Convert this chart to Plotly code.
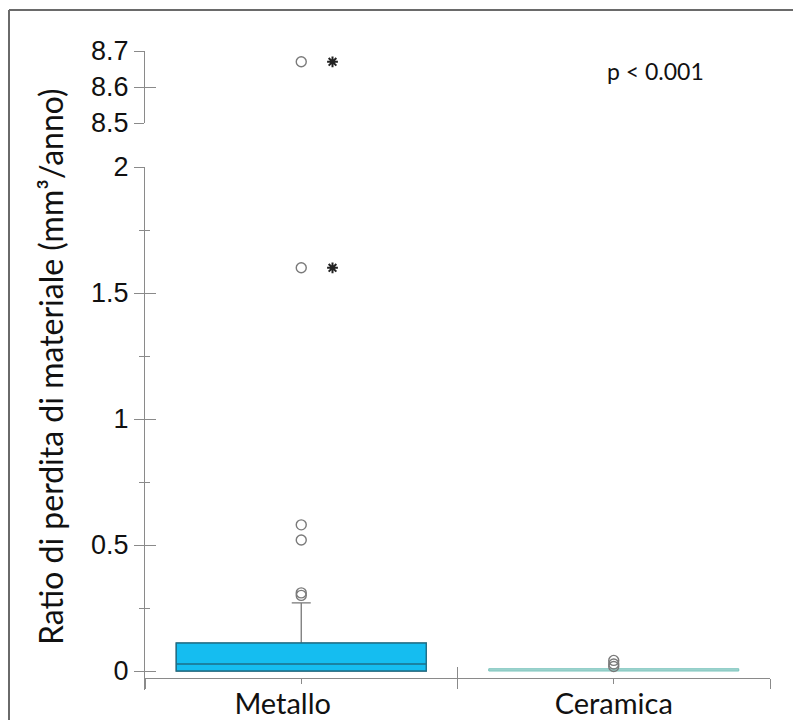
import plotly.graph_objects as go

# ---------------- data ----------------
categories = ["Metallo", "Ceramica"]
cat_pos = [0, 1]
q1 = [0.0, 0.0]
median = [0.028, 0.002]
q3 = [0.111, 0.009]
lower_fence = [0.0, 0.0]
upper_fence = [0.27, 0.009]

metallo_outliers = [0.30, 0.31, 0.52, 0.58, 1.60, 8.67]
metallo_extreme = [1.60, 8.67]          # values flagged with an asterisk
ceramica_outliers = [0.018, 0.028, 0.042]

low_ticks = [0, 0.5, 1, 1.5, 2]
low_ticktext = ["0", "0.5", "1", "1.5", "2"]
low_minor = [0.25, 0.75, 1.25, 1.75]
high_ticks = [8.5, 8.6, 8.7]
high_ticktext = ["8.5", "8.6", "8.7"]
boundaries = [-0.5, 0.5, 1.5]

y_title = "Ratio di perdita di materiale (mm³/anno)"
p_text = "p < 0.001"

# ---------------- layout constants ----------------
W, H = 793, 720
BREAK_LOW = 2.0
BREAK_HIGH = 8.5
AX = "#8a8a8a"
LABEL_FONT = "Lato, Carlito, Calibri, sans-serif"
NUM_FONT = "Liberation Sans, Arial, sans-serif"
NB = "\u00a0"
label_text = [categories[0] + NB * 5, categories[1]]

def px_x(p):
    return p / W

def px_y(p):
    return 1 - p / H

fig = go.Figure()

# whisker layer (gray) for Metallo
fig.add_trace(go.Box(
    x=[cat_pos[0]], q1=[q1[0]], median=[median[0]], q3=[q3[0]],
    lowerfence=[lower_fence[0]], upperfence=[upper_fence[0]],
    width=0.8, whiskerwidth=0.076, boxpoints=False,
    fillcolor="rgba(0,0,0,0)", line=dict(color="#777777", width=1.3),
    xaxis="x", yaxis="y", hoverinfo="skip"))
# box layer for Metallo
fig.add_trace(go.Box(
    x=[cat_pos[0]], q1=[q1[0]], median=[median[0]], q3=[q3[0]],
    lowerfence=[q1[0]], upperfence=[q3[0]],
    width=0.8, whiskerwidth=0, boxpoints=False,
    fillcolor="#15bdf0", line=dict(color="#1d6f88", width=1.4),
    xaxis="x", yaxis="y", hoverinfo="skip"))
# Ceramica box
fig.add_trace(go.Box(
    x=[cat_pos[1]], q1=[q1[1]], median=[median[1]], q3=[q3[1]],
    lowerfence=[lower_fence[1]], upperfence=[upper_fence[1]],
    width=0.8, whiskerwidth=0, boxpoints=False,
    fillcolor="#d4ece9", line=dict(color="#79c3bb", width=1.0),
    xaxis="x", yaxis="y", hoverinfo="skip"))

circle = dict(symbol="circle-open", size=10, color="#7a7a7a",
              line=dict(width=1.4, color="#7a7a7a"))
low_out = [v for v in metallo_outliers if v <= BREAK_LOW]
high_out = [v for v in metallo_outliers if v >= BREAK_HIGH]
fig.add_trace(go.Scatter(x=[cat_pos[0]] * len(low_out), y=low_out, mode="markers",
                         marker=circle, xaxis="x", yaxis="y", hoverinfo="skip"))
fig.add_trace(go.Scatter(x=[cat_pos[0]] * len(high_out), y=high_out, mode="markers",
                         marker=circle, xaxis="x", yaxis="y2", hoverinfo="skip"))
fig.add_trace(go.Scatter(x=[cat_pos[1]] * len(ceramica_outliers), y=ceramica_outliers,
                         mode="markers", marker=circle, xaxis="x", yaxis="y",
                         hoverinfo="skip"))

# asterisks beside extreme outliers
STAR_OFFSET = 0.1
star = dict(symbol="asterisk-open", size=9, color="#222222",
            line=dict(width=2, color="#222222"))
ext_low = [v for v in metallo_extreme if v <= BREAK_LOW]
ext_high = [v for v in metallo_extreme if v >= BREAK_HIGH]
fig.add_trace(go.Scatter(x=[cat_pos[0] + STAR_OFFSET] * len(ext_low), y=ext_low,
                         mode="markers", marker=star, xaxis="x", yaxis="y",
                         hoverinfo="skip"))
fig.add_trace(go.Scatter(x=[cat_pos[0] + STAR_OFFSET] * len(ext_high), y=ext_high,
                         mode="markers", marker=star, xaxis="x", yaxis="y2",
                         hoverinfo="skip"))

# empty traces so that the overlay (tick-only) axes get drawn
for xa, ya in [("x2", "y"), ("x3", "y"), ("x4", "y"), ("x", "y3"), ("x", "y4")]:
    fig.add_trace(go.Scatter(x=[], y=[], xaxis=xa, yaxis=ya, hoverinfo="skip",
                             mode="markers"))

x_dom = [px_x(145), px_x(770)]
y_low_dom = [px_y(690), px_y(167)]
y_high_dom = [px_y(123), px_y(51)]
y_low_range = [-(690 - 671) / ((671 - 167) / 2.0), 2.0]
x_range = [-0.5, 1.5]
x_pos = px_y(678)

common_x = dict(range=x_range, domain=x_dom, anchor="free", position=x_pos,
                showgrid=False, zeroline=False, fixedrange=True, automargin=False)
fig.update_layout(
    width=W, height=H,
    margin=dict(l=0, r=0, t=0, b=0),
    paper_bgcolor="white", plot_bgcolor="white",
    showlegend=False, boxmode="overlay", hovermode=False,
    xaxis=dict(**common_x, tickvals=cat_pos, ticktext=label_text,
               showline=True, linecolor=AX, linewidth=1.2,
               ticks="", ticklabelstandoff=0,
               tickfont=dict(family=LABEL_FONT, size=29, color="#111111")),
    xaxis2=dict(**common_x, overlaying="x", tickvals=boundaries, showticklabels=False,
                showline=False, ticks="outside", ticklen=10, tickcolor=AX, tickwidth=1.2),
    xaxis3=dict(**common_x, overlaying="x", tickvals=boundaries, showticklabels=False,
                showline=False, ticks="inside", ticklen=11, tickcolor=AX, tickwidth=1.2),
    xaxis4=dict(**common_x, overlaying="x", tickvals=cat_pos, showticklabels=False,
                showline=False, ticks="outside", ticklen=5, tickcolor=AX, tickwidth=1.2),
    yaxis=dict(domain=y_low_dom, range=y_low_range, anchor="x",
               tickvals=low_ticks, ticktext=low_ticktext,
               showline=True, linecolor=AX, linewidth=1.2,
               ticks="outside", ticklen=10, tickcolor=AX, tickwidth=1.2,
               minor=dict(tickvals=low_minor, ticks="outside", ticklen=5,
                          tickcolor=AX, tickwidth=1.2, showgrid=False),
               tickfont=dict(family=NUM_FONT, size=27, color="#111111"),
               showgrid=False, zeroline=False, fixedrange=True, automargin=False),
    yaxis3=dict(overlaying="y", range=y_low_range, anchor="x",
                tickvals=low_ticks, showticklabels=False, showline=False,
                ticks="inside", ticklen=11, tickcolor=AX, tickwidth=1.2,
                minor=dict(tickvals=low_minor, ticks="inside", ticklen=5,
                           tickcolor=AX, tickwidth=1.2, showgrid=False),
                showgrid=False, zeroline=False, fixedrange=True, automargin=False),
    yaxis2=dict(domain=y_high_dom, range=[8.5, 8.7], anchor="x",
                tickvals=high_ticks, ticktext=high_ticktext,
                showline=True, linecolor=AX, linewidth=1.2,
                ticks="outside", ticklen=10, tickcolor=AX, tickwidth=1.2,
                tickfont=dict(family=NUM_FONT, size=27, color="#111111"),
                showgrid=False, zeroline=False, fixedrange=True, automargin=False),
    yaxis4=dict(overlaying="y2", range=[8.5, 8.7], anchor="x",
                tickvals=high_ticks, showticklabels=False, showline=False,
                ticks="inside", ticklen=11, tickcolor=AX, tickwidth=1.2,
                showgrid=False, zeroline=False, fixedrange=True, automargin=False),
    annotations=[
        dict(text=y_title, xref="paper", yref="paper", x=px_x(50), y=px_y(367),
             textangle=-90, showarrow=False, xanchor="center", yanchor="middle",
             font=dict(family=LABEL_FONT, size=32, color="#111111")),
        dict(text=p_text, xref="paper", yref="paper", x=px_x(655), y=px_y(71),
             showarrow=False, xanchor="center", yanchor="middle",
             font=dict(family=LABEL_FONT, size=23, color="#111111")),
    ],
    shapes=[
        dict(type="line", xref="paper", yref="paper", x0=px_x(9), x1=1.0,
             y0=px_y(10), y1=px_y(10), line=dict(color="#6a6a6a", width=2)),
        dict(type="line", xref="paper", yref="paper", x0=px_x(9), x1=px_x(9),
             y0=px_y(10), y1=0.0, line=dict(color="#6a6a6a", width=2)),
    ],
)

fig.write_html("out.html", config={"displayModeBar": False},
               post_script="document.body.style.margin='0px';")
